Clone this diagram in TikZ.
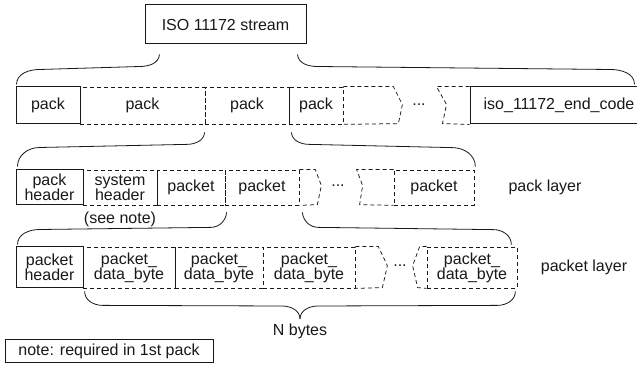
\documentclass[tikz,border=0pt]{standalone}
\usepackage{fontspec}
\setmainfont{Liberation Sans}
\usepackage{xcolor}
\usepackage{tikz}
\usetikzlibrary{positioning}
\definecolor{tinta}{RGB}{25,25,25}
\tikzset{
  texto/.style={inner sep=0pt,align=center,text=tinta,
    font=\fontsize{16}{15}\selectfont},
  caixa/.style={texto,rectangle,draw=tinta,line width=1pt},
  tracejada/.style={texto,rectangle,draw=tinta,line width=0.75pt,
    dash pattern=on 4pt off 3pt},
  borda/.style={draw=tinta,line width=0.75pt,dash pattern=on 4pt off 3pt},
  chave/.style={draw=tinta,line width=0.8pt}
}
\begin{document}
\begin{tikzpicture}[x=1pt,y=1pt,
  rotulo/.style={texto}]
\useasboundingbox[fill=white] (0,0) rectangle (637,364);
\node[caixa,minimum width=161pt,minimum height=39pt] (stream) at (225.5,339.5) {ISO 11172 stream};

\node[caixa,minimum width=64pt,minimum height=37pt] (p1) at (48,258.5) {pack};
\node[tracejada,minimum width=125pt,minimum height=37pt] (p2) at (142.5,258.5) {pack};
\node[tracejada,minimum width=84pt,minimum height=37pt] (p3) at (247,258.5) {pack};
\node[tracejada,minimum width=54pt,minimum height=37pt] (p4) at (316,258.5) {pack};
\node[rotulo] (pts1) at (419,259) {...};
\node[caixa,minimum width=178pt,minimum height=37pt] (fim) at (559,258.5) {iso\_11172\_end\_code};
\draw[borda] (p4.north east) -- ++(50,0) -- ++(9,-18) -- ++(-4,-19) -- (p4.south east);
\draw[borda] (fim.north west) -- ++(-33,0) -- ++(10,-18) -- ++(-4,-19) -- (fim.south west);

\node[caixa,minimum width=67pt,minimum height=35pt] (h1) at (49.5,176.5) {pack\\header};
\node[tracejada,minimum width=74pt,minimum height=35pt] (s1) at (120,176.5) {system\\header};
\node[tracejada,minimum width=68pt,minimum height=35pt] (k1) at (191,176.5) {packet};
\node[tracejada,minimum width=74pt,minimum height=35pt] (k2) at (262,176.5) {packet};
\node[rotulo] (pts2) at (338,178) {...};
\node[tracejada,minimum width=80pt,minimum height=35pt] (k3) at (434,176.5) {packet};
\draw[borda] (k2.north east) -- ++(16,0) -- ++(6,-16) -- ++(-4,-19) -- (k2.south east);
\draw[borda] (k3.north west) -- ++(-37,0) -- ++(6,-16) -- ++(-3,-19) -- (k3.south west);
\node[rotulo,below=6pt of s1] (nota1) {(see note)};
\node[rotulo] (camada1) at (545,176.5) {pack layer};

\node[caixa,minimum width=67pt,minimum height=41pt] (h2) at (49.5,96.5) {packet\\header};
\node[tracejada,minimum width=92pt,minimum height=41pt] (d1) at (129,96.5) {packet\_\\data\_byte};
\node[tracejada,minimum width=88pt,minimum height=41pt] (d2) at (219,96.5) {packet\_\\data\_byte};
\node[tracejada,minimum width=92pt,minimum height=41pt] (d3) at (309,96.5) {packet\_\\data\_byte};
\node[rotulo] (pts3) at (400,98) {...};
\node[tracejada,minimum width=90pt,minimum height=41pt] (d4) at (472,96.5) {packet\_\\data\_byte};
\draw[borda] (d3.north east) -- ++(23,0) -- ++(9,-19) -- ++(-5,-22) -- (d3.south east);
\draw[borda] (d4.north west) -- ++(-7,0) -- ++(-7,-19) -- ++(5,-22) -- (d4.south west);
\node[rotulo] (camada2) at (584,96.5) {packet layer};

\coordinate (ponta) at (300,45);
\node[rotulo,below=5pt of ponta] (nbytes) {N bytes};
\node[caixa,minimum width=208pt,minimum height=23pt] (nota) at (109,13) {note: required in 1st pack};

\draw[chave] ([xshift=15pt,yshift=-10pt]stream.south west) to[out=-95,in=0] ++(-20,-12)
  -- ([xshift=24pt,yshift=17pt]p1.north west) to[out=180,in=90] ([xshift=1pt,yshift=2pt]p1.north west);
\draw[chave] ([xshift=-9pt,yshift=-10pt]stream.south east) to[out=-85,in=180] ++(20,-12)
  -- ([xshift=-38pt,yshift=17pt]fim.north east) to[out=0,in=90] ([xshift=-14pt,yshift=2pt]fim.north east);

\draw[chave] ([yshift=-8pt]p3.south west) to[out=-95,in=0] ++(-18,-12)
  -- ([xshift=24pt,yshift=22pt]h1.north west) to[out=180,in=90] ([xshift=2pt,yshift=3pt]h1.north west);
\draw[chave] ([xshift=2pt,yshift=-8pt]p3.south east) to[out=-85,in=180] ++(18,-12)
  -- ([xshift=-22pt,yshift=22pt]k3.north east) to[out=0,in=90] ([xshift=1pt,yshift=3pt]k3.north east);

\draw[chave] ([xshift=2pt,yshift=-7pt]k2.south west) to[out=-95,in=0] ++(-16,-15)
  -- ([xshift=24pt,yshift=17pt]h2.north west) to[out=180,in=90] ([xshift=2pt,yshift=2pt]h2.north west);
\draw[chave] ([xshift=3pt,yshift=-7pt]k2.south east) to[out=-85,in=180] ++(16,-15)
  -- ([xshift=-24pt,yshift=17pt]d4.north east) to[out=0,in=90] ([xshift=-6pt,yshift=2pt]d4.north east);

\draw[chave] ([xshift=2pt,yshift=-3pt]d1.south west) to[out=-90,in=180] ++(18,-14)
  -- ([xshift=-18pt,yshift=13pt]ponta) to[out=0,in=90] (ponta);
\draw[chave] ([xshift=-2pt,yshift=-3pt]d4.south east) to[out=-90,in=0] ++(-18,-14)
  -- ([xshift=18pt,yshift=13pt]ponta) to[out=180,in=90] (ponta);
\end{tikzpicture}
\end{document}
